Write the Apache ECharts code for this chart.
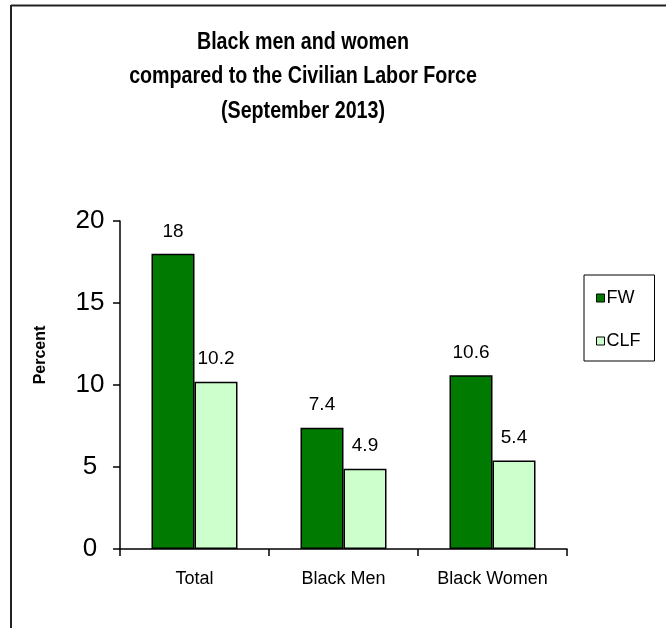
<!DOCTYPE html>
<html>
<head>
<meta charset="utf-8">
<script src="https://cdn.jsdelivr.net/npm/echarts@6/dist/echarts.min.js"></script>
<style>
html,body{margin:0;padding:0;background:#fff;}
#chart{width:666px;height:628px;}
</style>
</head>
<body>
<div id="chart"></div>
<script>
var categories = ['Total', 'Black Men', 'Black Women'];
var fwValues = [18, 7.4, 10.6];
var clfValues = [10.2, 4.9, 5.4];
var seriesNames = ['FW', 'CLF'];
var yTicks = [0, 5, 10, 15, 20];
var titleText = 'Black men and women\ncompared to the Civilian Labor Force\n(September 2013)';

var FONT = '"Liberation Sans", Arial, sans-serif';
var chart = echarts.init(document.getElementById('chart'), null, {renderer: 'canvas'});

var labelCfg = {
  show: true, position: 'top', distance: 13,
  color: '#000', fontSize: 19, fontFamily: FONT
};

chart.setOption({
  animation: false,
  backgroundColor: '#fff',
  legend: {
    orient: 'vertical',
    left: 584, top: 275,
    padding: [14, 14, 11, 12],
    itemWidth: 8, itemHeight: 8, itemGap: 25,
    borderColor: '#000', borderWidth: 1,
    icon: 'rect',
    data: seriesNames,
    itemStyle: {borderColor: '#000', borderWidth: 1},
    textStyle: {fontFamily: FONT, fontSize: 18, color: '#000', padding: [0, 0, 0, -3]}
  },
  grid: {left: 120, right: 99, top: 221, bottom: 79, containLabel: false},
  xAxis: {
    type: 'category',
    data: categories,
    axisLine: {lineStyle: {color: '#000', width: 1.5}},
    axisTick: {show: true, length: 7, lineStyle: {color: '#000', width: 1.5}},
    axisLabel: {color: '#000', fontSize: 18, fontFamily: FONT, margin: 21, interval: 0}
  },
  yAxis: {
    type: 'value',
    min: yTicks[0], max: yTicks[yTicks.length - 1], interval: 5,
    splitLine: {show: false},
    axisLine: {show: true, lineStyle: {color: '#000', width: 1.5}},
    axisTick: {show: true, length: 7, lineStyle: {color: '#000', width: 1.5}},
    axisLabel: {color: '#000', fontSize: 26, fontFamily: FONT, margin: 30, align: 'center'}
  },
  graphic: [
    {type: 'line', shape: {x1: 11, y1: 5.5, x2: 666, y2: 5.5}, style: {stroke: '#222', lineWidth: 2}},
    {type: 'line', shape: {x1: 11, y1: 5, x2: 11, y2: 628}, style: {stroke: '#222', lineWidth: 2}},
    {type: 'text', x: 303, y: 25, scaleX: 0.82,
     style: {text: titleText, fontFamily: FONT, fontWeight: 'bold', fontSize: 24, lineHeight: 34.5,
             fill: '#000', textAlign: 'center', textVerticalAlign: 'top'}},
    {type: 'text', x: 41, y: 355, rotation: Math.PI / 2,
     style: {text: 'Percent', fontFamily: FONT, fontWeight: 'bold', fontSize: 16, fill: '#000',
             textAlign: 'center', textVerticalAlign: 'middle'}}
  ],
  series: [
    {
      name: seriesNames[0], type: 'bar', data: fwValues,
      barWidth: 43, barGap: '0%',
      itemStyle: {color: '#007A00', borderColor: '#000', borderWidth: 1.5},
      label: labelCfg
    },
    {
      name: seriesNames[1], type: 'bar', data: clfValues,
      barWidth: 43, barGap: '0%',
      itemStyle: {color: '#CCFFCC', borderColor: '#000', borderWidth: 1.5},
      label: labelCfg
    }
  ]
});
</script>
</body>
</html>
